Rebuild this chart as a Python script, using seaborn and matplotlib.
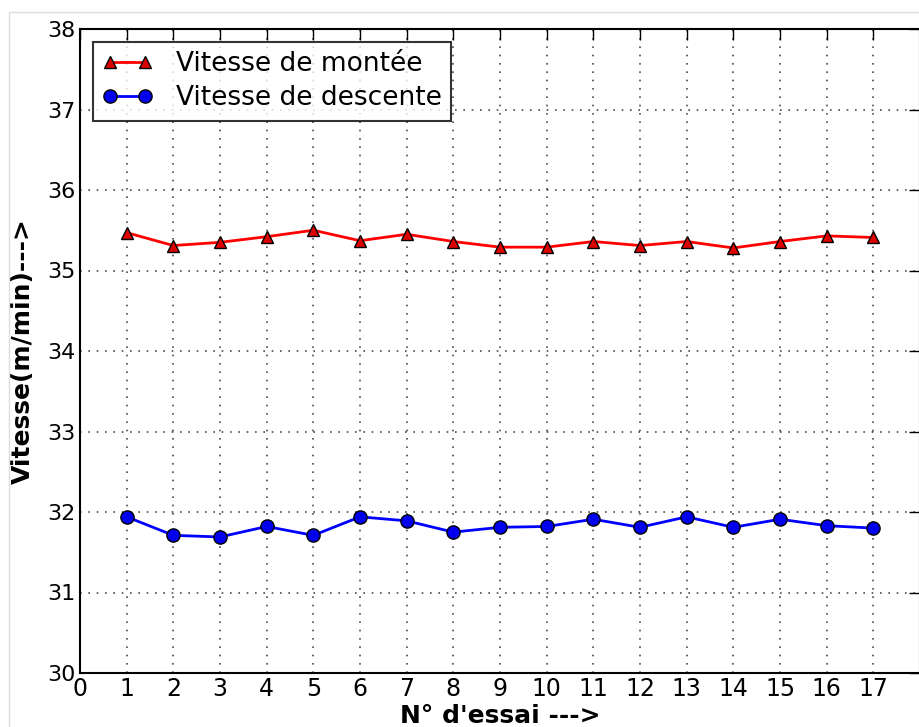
import matplotlib
matplotlib.use("Agg")
import matplotlib.pyplot as plt
from matplotlib.lines import Line2D
import seaborn as sns
import pandas as pd

# Trial numbers and measured speeds (m/min)
essais = list(range(1, 18))
vitesse_montee = [35.47, 35.31, 35.35, 35.42, 35.50, 35.37, 35.45, 35.36, 35.29,
                  35.29, 35.36, 35.31, 35.36, 35.28, 35.36, 35.43, 35.41]
vitesse_descente = [31.94, 31.71, 31.69, 31.82, 31.71, 31.94, 31.89, 31.75, 31.81,
                    31.82, 31.91, 31.81, 31.94, 31.81, 31.91, 31.83, 31.80]
x_ticks = list(range(0, 18))
y_ticks = list(range(30, 39))

df = pd.DataFrame({"essai": essais,
                   "montee": vitesse_montee,
                   "descente": vitesse_descente})

sns.set_style("white")
plt.rcParams["font.family"] = ["DejaVu Sans"]
plt.rcParams["text.color"] = "black"
plt.rcParams["axes.labelcolor"] = "black"

W, H = 919, 727
fig = plt.figure(figsize=(W / 100, H / 100), dpi=100)
ax = fig.add_axes([80 / W, 54 / H, 840 / W, 644 / H])

ms_tri, ms_dot = 9, 9.5
sns.lineplot(data=df, x="essai", y="montee", ax=ax, color="#ff0000",
             linewidth=2, marker="^", markersize=ms_tri, markerfacecolor="#dd0000",
             markeredgecolor="black", markeredgewidth=1,
             label="Vitesse de montée")
sns.lineplot(data=df, x="essai", y="descente", ax=ax, color="#0000ff",
             linewidth=2, marker="o", markersize=ms_dot, markerfacecolor="#0000ee",
             markeredgecolor="black", markeredgewidth=1,
             label="Vitesse de descente")

ax.set_xlim(0, 18)
ax.set_ylim(30, 38)
ax.set_xticks(x_ticks)
ax.set_yticks(y_ticks)
ax.set_xticklabels([str(t) for t in x_ticks], fontsize=17)
ax.set_yticklabels([str(t) for t in y_ticks], fontsize=16)

ax.grid(True, linestyle=(0, (1, 4)), color="black", linewidth=1.2, alpha=0.7)
ax.tick_params(direction="in", length=8, width=1, top=True, right=True,
               pad=3, colors="black")
for s in ax.spines.values():
    s.set_color("black")
    s.set_linewidth(1.5)

ax.set_xlabel("N° d'essai --->", fontsize=18, fontweight="bold", labelpad=2)
ax.set_ylabel("Vitesse(m/min)--->", fontsize=18, fontweight="bold", labelpad=9)

handles = [
    Line2D([], [], color="#ff0000", linewidth=2, marker="^", markersize=ms_tri,
           markerfacecolor="#dd0000", markeredgecolor="black"),
    Line2D([], [], color="#0000ff", linewidth=2, marker="o", markersize=ms_dot,
           markerfacecolor="#0000ee", markeredgecolor="black"),
]
leg = ax.legend(handles, ["Vitesse de montée", "Vitesse de descente"],
                loc="upper left", fontsize=19, numpoints=2, frameon=True,
                fancybox=False, borderaxespad=0.5, handlelength=1.9,
                borderpad=0.35, labelspacing=0.3, handletextpad=0.9)
leg.get_frame().set_edgecolor("black")
leg.get_frame().set_linewidth(1.5)

# thin light frame around the figure
fig.add_artist(Line2D([9 / W, 9 / W], [0, 1 - 12 / H], transform=fig.transFigure,
                      color="#dddddd", linewidth=1))
fig.add_artist(Line2D([9 / W, 1], [1 - 12 / H, 1 - 12 / H], transform=fig.transFigure,
                      color="#dddddd", linewidth=1))

fig.savefig("out.png", dpi=100)
